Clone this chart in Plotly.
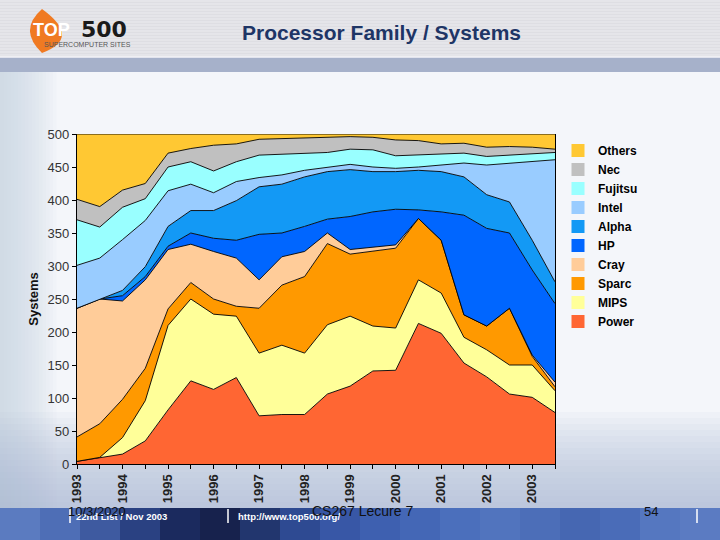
import plotly.graph_objects as go

# ---------------- data ----------------
lists = [1993 + 0.5 * i for i in range(22)]  # Jun 1993 ... Nov 2003

power   = [4, 10, 15, 35, 82, 126, 113, 131, 73, 75, 75, 106, 118, 141, 142, 213, 198, 153, 132, 106, 101, 78]
mips    = [0, 0, 25, 61, 128, 124, 114, 93, 95, 105, 93, 105, 106, 68, 64, 66, 61, 39, 41, 44, 49, 33]
sparc   = [37, 51, 58, 49, 25, 25, 23, 15, 68, 91, 116, 123, 94, 113, 121, 93, 80, 34, 36, 86, 13, 6]
cray    = [195, 189, 149, 134, 90, 58, 72, 73, 43, 43, 38, 16, 7, 7, 5, 0, 0, 0, 0, 0, 2, 7]
hp      = [0, 0, 8, 5, 5, 17, 20, 27, 69, 36, 38, 21, 50, 53, 54, 13, 43, 151, 148, 114, 129, 119]
alpha   = [0, 0, 8, 15, 30, 34, 42, 60, 72, 74, 75, 72, 71, 61, 57, 60, 61, 58, 51, 47, 45, 33]
intel   = [65, 62, 77, 70, 54, 40, 27, 29, 14, 14, 10, 7, 8, 7, 5, 5, 10, 21, 45, 59, 119, 185]
fujitsu = [69, 47, 49, 33, 36, 34, 33, 30, 34, 31, 26, 22, 23, 26, 19, 18, 17, 15, 13, 12, 12, 11]
nec     = [31, 31, 26, 23, 21, 20, 39, 27, 24, 24, 22, 23, 19, 19, 24, 22, 15, 15, 14, 13, 10, 5]
others  = [99, 110, 85, 75, 29, 22, 17, 15, 8, 7, 7, 5, 4, 5, 9, 10, 15, 14, 20, 19, 20, 23]

series_names = ["Power", "MIPS", "Sparc", "Cray", "HP", "Alpha", "Intel", "Fujitsu", "Nec", "Others"]
series_values = [power, mips, sparc, cray, hp, alpha, intel, fujitsu, nec, others]
series_colors = ["#FF6633", "#FFFF99", "#FF9900", "#FFCC99", "#0066FF",
                 "#1399F5", "#99CCFF", "#99FFFF", "#C0C0C0", "#FFC833"]

# ---------------- figure ----------------
W, H = 720, 540
L, R, T, B = 77, 555, 134, 464
FONT = "Liberation Sans, Arial, sans-serif"


def px(x):
    return (x - L) / (R - L)


def py(y):
    return (B - y) / (B - T)


fig = go.Figure()
for name, vals, col in zip(series_names, series_values, series_colors):
    fig.add_trace(go.Scatter(
        x=lists, y=vals, name=name, mode="lines", stackgroup="one",
        line=dict(color="#000000", width=0.9), fillcolor=col,
        hoverinfo="x+y+name", showlegend=False, legendgroup=name,
    ))
# legend entries with square swatches (top to bottom: Others ... Power)
for name, col in zip(reversed(series_names), reversed(series_colors)):
    fig.add_trace(go.Scatter(
        x=[None], y=[None], name=name, mode="markers", legendgroup=name,
        marker=dict(symbol="square", size=13, color=col, line=dict(width=0)),
        showlegend=True, hoverinfo="skip",
    ))

shapes = []
# slide background layers
shapes.append(dict(type="rect", xref="paper", yref="paper", x0=px(0), x1=px(W), y0=py(H), y1=py(0),
                   fillcolor="#F4F6FA", line_width=0, layer="below"))
# left bluish tint (soft)
for i in range(16):
    shapes.append(dict(type="rect", xref="paper", yref="paper", x0=px(0), x1=px(4 + i * 3.5),
                       y0=py(508), y1=py(72), fillcolor="#C5D0E4", opacity=0.07, line_width=0, layer="below"))
# bottom bluish gradient
for i in range(16):
    shapes.append(dict(type="rect", xref="paper", yref="paper", x0=px(0), x1=px(W),
                       y0=py(508), y1=py(508 - 6 - i * 6), fillcolor="#AEBBD6", opacity=0.07,
                       line_width=0, layer="below"))
# header stripes
shapes.append(dict(type="rect", xref="paper", yref="paper", x0=px(0), x1=px(W), y0=py(57), y1=py(0),
                   fillcolor="#DEDEE3", line_width=0, layer="below"))
for yy in range(1, 57, 3):
    shapes.append(dict(type="line", xref="paper", yref="paper", x0=px(0), x1=px(W), y0=py(yy), y1=py(yy),
                       line=dict(color="#ECECF0", width=1), layer="below"))
# header blue band
shapes.append(dict(type="rect", xref="paper", yref="paper", x0=px(0), x1=px(W), y0=py(72), y1=py(57),
                   fillcolor="#A6B1CA", line_width=0, layer="below"))
shapes.append(dict(type="line", xref="paper", yref="paper", x0=px(0), x1=px(W), y0=py(57), y1=py(57),
                   line=dict(color="#F4F5F8", width=1.5), layer="below"))
# footer band (drawn above the plot so it hides the tick label tails)
fcols = ["#5B7BC0", "#4E6EB6", "#3E5AA0", "#2A4182", "#1B2A5E", "#17224D", "#22366E",
         "#2E4A92", "#3857A6", "#3E60B0", "#4467B6", "#4B6FBC", "#5174BE", "#4C6EB8",
         "#4667B2", "#4A6CB8", "#5577C0", "#5B7BC2"]
cw = W / len(fcols)
for k, c in enumerate(fcols):
    shapes.append(dict(type="rect", xref="paper", yref="paper", x0=px(k * cw), x1=px((k + 1) * cw + 1),
                       y0=py(H), y1=py(508), fillcolor=c, line_width=0, layer="above"))
for xv in (70, 228, 697):
    shapes.append(dict(type="line", xref="paper", yref="paper", x0=px(xv), x1=px(xv), y0=py(523), y1=py(509),
                       line=dict(color="#FFFFFF", width=1.5), layer="above"))
# logo blob
shapes.append(dict(type="path", xref="paper", yref="paper", layer="below",
                   path="M {a},{b} Q {c},{d} {e},{f} Q {g},{h} {i},{j} Z".format(
                       a=px(42), b=py(9), c=px(18), d=py(30), e=px(42), f=py(53),
                       g=px(82), h=py(38), i=px(42), j=py(9)),
                   fillcolor="#F07A22", line_width=0))

ann = []


def text(x, y, s, size, color, bold=False, xanchor="left", family=FONT):
    ann.append(dict(xref="paper", yref="paper", x=px(x), y=py(y), text=("<b>%s</b>" % s) if bold else s,
                    showarrow=False, xanchor=xanchor, yanchor="middle",
                    font=dict(size=size, color=color, family=family)))


text(31, 30, "TOP", 18, "#FFFFFF", bold=True)
text(79, 30, "500", 22, "#1A1A1A", bold=True, family="DejaVu Sans, sans-serif")
text(42, 45, "SUPERCOMPUTER SITES", 7, "#555555")
text(381, 33, "Processor Family / Systems", 21, "#1E3566", bold=True, xanchor="center")
text(74, 516, "22nd List / Nov 2003", 9.5, "#FFFFFF", bold=True)
text(236, 516, "http://www.top500.org/", 9.5, "#FFFFFF", bold=True)
text(66, 511, "10/3/2020", 13, "#111111")
text(362, 511, "CS267 Lecure 7", 14, "#111111", xanchor="center")
text(651, 511, "54", 13, "#111111", xanchor="center")

tickvals = lists
ticktext = [("<b>%d</b>" % int(v)) if v == int(v) else "" for v in lists]

fig.update_layout(
    width=W, height=H,
    margin=dict(l=L, r=W - R, t=T, b=H - B, pad=0),
    paper_bgcolor="#F4F6FA", plot_bgcolor="rgba(0,0,0,0)",
    showlegend=True,
    legend=dict(traceorder="normal", x=px(558), y=py(136), xanchor="left", yanchor="top",
                bgcolor="rgba(0,0,0,0)",
                font=dict(size=12, color="#000000", family=FONT, weight="bold"),
                itemwidth=30, tracegroupgap=0, itemclick=False),
    font=dict(family=FONT),
    xaxis=dict(range=[1993, 2003.5], tickvals=tickvals, ticktext=ticktext, tickangle=-90,
               ticks="outside", ticklen=4, tickcolor="#000000", showgrid=False, zeroline=False,
               showline=True, linecolor="#000000", linewidth=1.2,
               tickfont=dict(size=13, color="#222222", family=FONT)),
    yaxis=dict(range=[0, 500], dtick=50, ticks="outside", ticklen=4, tickcolor="#000000",
               showgrid=False, zeroline=False, showline=True, mirror=True, linecolor="#000000", linewidth=1.2,
               tickfont=dict(size=13, color="#333333", family=FONT),
               title=dict(text="<b>Systems</b>", standoff=6,
                          font=dict(size=13, color="#111111", family=FONT))),
    shapes=shapes, annotations=ann,
)

fig.write_html("out.html")
